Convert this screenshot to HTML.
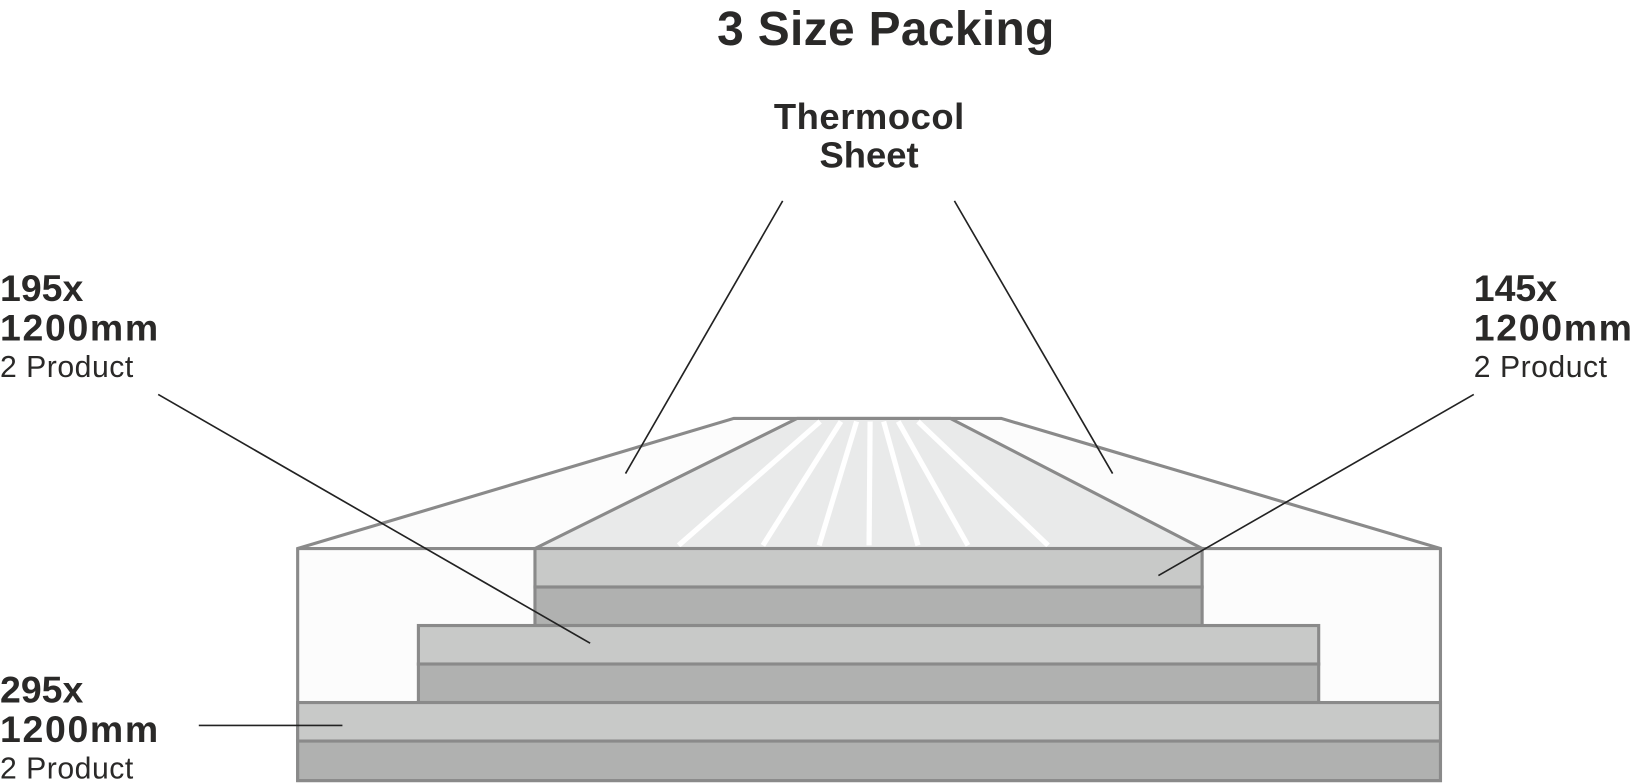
<!DOCTYPE html>
<html><head><meta charset="utf-8"><style>
html,body{margin:0;padding:0;background:#fff;}
svg{display:block;}
text{font-family:"Liberation Sans",sans-serif;fill:#2a2928;}
.b{font-weight:bold;}
</style></head><body>
<svg width="1632" height="783" viewBox="0 0 1632 783" xmlns="http://www.w3.org/2000/svg">
<rect width="1632" height="783" fill="#fff"/>
<g transform="scale(1.0408)">
<polygon points="286,527 705,402 962,402 1384,527 1384,750 286,750" fill="#fcfcfc" stroke="#8a8a8a" stroke-width="3"/>
<line x1="286" y1="527" x2="1384" y2="527" stroke="#8a8a8a" stroke-width="3"/>
<polygon points="514,527 766,402 913,402 1155,527" fill="#e9eaea" stroke="#8a8a8a" stroke-width="3"/>
<g stroke="#fff" stroke-width="5">
<line x1="788" y1="405" x2="652" y2="524"/>
<line x1="808" y1="405" x2="733" y2="524"/>
<line x1="823" y1="405" x2="787" y2="524"/>
<line x1="836" y1="405" x2="835" y2="524"/>
<line x1="849" y1="405" x2="882" y2="524"/>
<line x1="863" y1="405" x2="930" y2="524"/>
<line x1="882" y1="405" x2="1007" y2="524"/>
</g>
<g stroke="#8a8a8a" stroke-width="3">
<rect x="514" y="527" width="641" height="37" fill="#c8c9c8"/>
<rect x="514" y="564" width="641" height="37" fill="#b0b1b0"/>
<rect x="402" y="601" width="865" height="37" fill="#c8c9c8"/>
<rect x="402" y="638" width="865" height="37" fill="#b0b1b0"/>
<rect x="286" y="675" width="1098" height="37" fill="#c8c9c8"/>
<rect x="286" y="712" width="1098" height="38" fill="#b0b1b0"/>
</g>
<g stroke="#222" stroke-width="1.6">
<line x1="752" y1="193" x2="601" y2="455"/>
<line x1="917" y1="193" x2="1069" y2="455"/>
<line x1="152" y1="379" x2="567" y2="618"/>
<line x1="1416" y1="379" x2="1113" y2="553"/>
<line x1="191" y1="697" x2="329" y2="697"/>
</g>
<text class="b" x="851" y="43" font-size="46" text-anchor="middle" textLength="324">3 Size Packing</text>
<text class="b" x="835" y="124" font-size="35" text-anchor="middle" textLength="183">Thermocol</text>
<text class="b" x="835" y="161" font-size="35" text-anchor="middle">Sheet</text>
<text class="b" x="0" y="289" font-size="36">195x</text>
<text class="b" x="0" y="327" font-size="36" textLength="152">1200mm</text>
<text x="0" y="362" font-size="29" textLength="128">2 Product</text>
<text class="b" x="1416" y="289" font-size="36">145x</text>
<text class="b" x="1416" y="327" font-size="36" textLength="152">1200mm</text>
<text x="1416" y="362" font-size="29" textLength="128">2 Product</text>
<text class="b" x="0" y="675" font-size="36">295x</text>
<text class="b" x="0" y="713" font-size="36" textLength="152">1200mm</text>
<text x="0" y="748" font-size="29" textLength="128">2 Product</text>
</g>
</svg>
</body></html>
